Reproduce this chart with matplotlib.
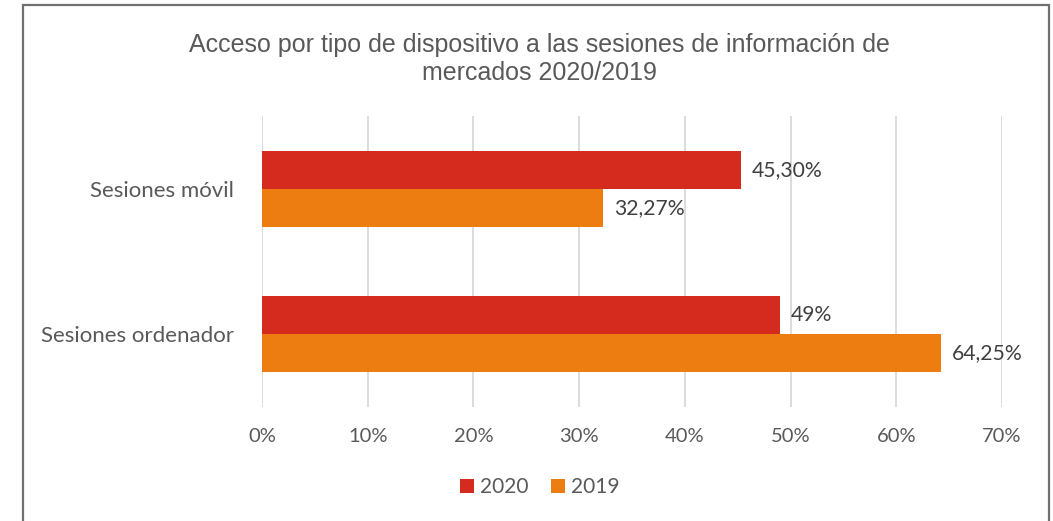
import matplotlib.pyplot as plt
from matplotlib.patches import Rectangle
import numpy as np

# data
categories = ['Sesiones ordenador', 'Sesiones móvil']
vals_2020 = [49.0, 45.30]
vals_2019 = [64.25, 32.27]
labels_2020 = ['49%', '45,30%']
labels_2019 = ['64,25%', '32,27%']
xticks = [0, 10, 20, 30, 40, 50, 60, 70]

red = '#D52B1E'
orange = '#EE7D11'
txt = '#595959'

plt.rcParams['font.family'] = ['Lato', 'DejaVu Sans']

fig = plt.figure(figsize=(10.53, 5.21), dpi=100)
ax = fig.add_axes([262 / 1053, 1 - 407 / 521, 740 / 1053, 291 / 521])

# chart border
fig.patches.append(Rectangle((23 / 1053, -0.05), 1026 / 1053, 1 - 5 / 521 + 0.05,
                             transform=fig.transFigure, fill=False,
                             edgecolor='#707070', linewidth=1.6))

y = np.arange(len(categories))
h = 0.26
b20 = ax.barh(y + h / 2, vals_2020, height=h, color=red, label='2020', zorder=3)
b19 = ax.barh(y - h / 2, vals_2019, height=h, color=orange, label='2019', zorder=3)

for bars, labs in [(b20, labels_2020), (b19, labels_2019)]:
    for bar, lab in zip(bars, labs):
        ax.text(bar.get_width() + 1.0, bar.get_y() + bar.get_height() / 2, lab,
                va='center', ha='left', fontsize=15.2, color='#404040', zorder=4)

ax.set_xlim(0, 70)
ax.set_ylim(-0.5, 1.5)
ax.set_xticks(xticks)
ax.set_xticklabels([f'{t}%' for t in xticks], fontsize=14.5, color=txt)
ax.set_yticks(y)
ax.set_yticklabels(categories, fontsize=16, color=txt)
ax.tick_params(axis='both', length=0)
ax.tick_params(axis='x', pad=15)
ax.tick_params(axis='y', pad=20)
ax.grid(axis='x', color='#D9D9D9', linewidth=1.3, zorder=0)
for s in ax.spines.values():
    s.set_visible(False)

fig.text(539 / 1053, 1 - 59 / 521,
         'Acceso por tipo de dispositivo a las sesiones de información de\nmercados 2020/2019',
         ha='center', va='center', fontsize=18, color=txt,
         family=['Liberation Sans', 'DejaVu Sans'], linespacing=1.25)

fig.legend(handles=[b20, b19], loc='center', bbox_to_anchor=(540 / 1053, 1 - 487 / 521),
           ncol=2, frameon=False, fontsize=15, handlelength=0.65, handleheight=0.65,
           handletextpad=0.3, columnspacing=1.1, labelcolor=txt)

fig.savefig('out.png', dpi=100, facecolor='white')
